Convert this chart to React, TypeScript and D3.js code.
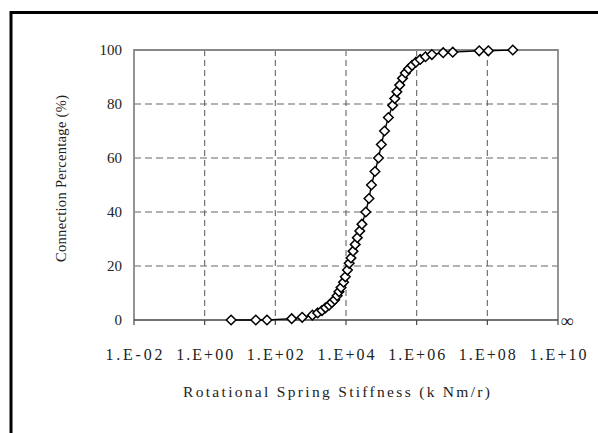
import React from "react";
import * as d3 from "d3";

const stiffness = [
  5.6, 28, 58, 290, 575, 1120, 1580, 2090, 2630, 3310, 3980, 4790, 5620, 6310,
  7240, 8510, 9550, 11000, 12300, 13800, 15800, 18200, 20900, 24500, 28200,
  36300, 44700, 52500, 66100, 83200, 100000, 123000, 158000, 209000, 240000,
  275000, 331000, 398000, 479000, 589000, 741000, 955000, 1260000, 1780000,
  2690000, 5620000, 10500000, 58900000, 107000000, 525000000,
];
const percentage = [
  0, 0, 0, 0.5, 1, 1.8, 2.6, 3.5, 4.5, 5.5, 6.5, 7.5, 9, 10.5, 12, 14, 16, 18.5,
  21, 23, 25.5, 28, 30.5, 33, 35.5, 40, 45, 50, 55, 60, 65, 70, 75, 79.5, 82,
  84.5, 87, 89.5, 91.5, 93, 94.3, 95.5, 96.5, 97.5, 98.3, 99, 99.2, 99.7, 99.7,
  100,
];
const xTickValues = [1e-2, 1e0, 1e2, 1e4, 1e6, 1e8, 1e10];
const xTickLabels = ["1.E-02", "1.E+00", "1.E+02", "1.E+04", "1.E+06", "1.E+08", "1.E+10"];
const yTickValues = [0, 20, 40, 60, 80, 100];

export default function App() {
  const left = 134, right = 558, top = 50, bottom = 320;
  const x = d3.scaleLog().domain([1e-2, 1e10]).range([left, right]);
  const y = d3.scaleLinear().domain([0, 100]).range([bottom, top]);
  const pts = stiffness.map((s, i) => [x(s), y(percentage[i])] as [number, number]);
  const line = d3.line()(pts) || "";
  const font = "'Liberation Serif', 'Times New Roman', Times, serif";
  const dia = (cx: number, cy: number) => {
    const r = 4.8;
    return `M${cx},${cy - r}L${cx + r},${cy}L${cx},${cy + r}L${cx - r},${cy}Z`;
  };
  return (
    <svg width={598} height={433} style={{ position: "absolute", left: 0, top: 0, background: "#fff" }}>
      <rect x={0} y={0} width={598} height={433} fill="#fff" />
      <rect x={11} y={12.5} width={640} height={500} fill="none" stroke="#000" strokeWidth={3} />
      {xTickValues.slice(1, -1).map((v) => (
        <line key={"gx" + v} x1={x(v)} x2={x(v)} y1={top} y2={bottom} stroke="#666" strokeWidth={1.1} strokeDasharray="6,4" />
      ))}
      {yTickValues.slice(1, -1).map((v) => (
        <line key={"gy" + v} x1={left} x2={right} y1={y(v)} y2={y(v)} stroke="#666" strokeWidth={1.1} strokeDasharray="7,4" />
      ))}
      <path d={`M${left},${bottom}V${top}H${right}V${bottom}`} fill="none" stroke="#888" strokeWidth={1.8} />
      <line x1={left} x2={right} y1={bottom} y2={bottom} stroke="#444" strokeWidth={1.5} />
      {xTickValues.map((v) => (
        <line key={"tx" + v} x1={x(v)} x2={x(v)} y1={bottom} y2={bottom + 5} stroke="#444" strokeWidth={1.2} />
      ))}
      <path d={line} fill="none" stroke="#000" strokeWidth={1.4} />
      {pts.map(([cx, cy], i) => (
        <path key={"p" + i} d={dia(cx, cy)} fill="#fff" stroke="#000" strokeWidth={1.5} />
      ))}
      {yTickValues.map((v) => (
        <text key={"ly" + v} x={122} y={y(v) + 5} textAnchor="end" fontFamily={font} fontSize={15} fill="#222">
          {v}
        </text>
      ))}
      {xTickValues.map((v, i) => (
        <text key={"lx" + v} x={x(v) - 28.5} y={360} textLength={57} lengthAdjust="spacing" fontFamily={font} fontSize={16} fill="#222">
          {xTickLabels[i]}
        </text>
      ))}
      <text x={567} y={327} textAnchor="middle" fontFamily={font} fontSize={18} fill="#222">∞</text>
      <text x={183} y={397} textLength={307} lengthAdjust="spacing" fontFamily={font} fontSize={15.5} fill="#222">
        Rotational Spring Stiffness (k Nm/r)
      </text>
      <text transform={`translate(66,${(95 + 262) / 2}) rotate(-90)`} textAnchor="middle" textLength={167} lengthAdjust="spacing" fontFamily={font} fontSize={14.5} fill="#222">
        Connection Percentage (%)
      </text>
    </svg>
  );
}
